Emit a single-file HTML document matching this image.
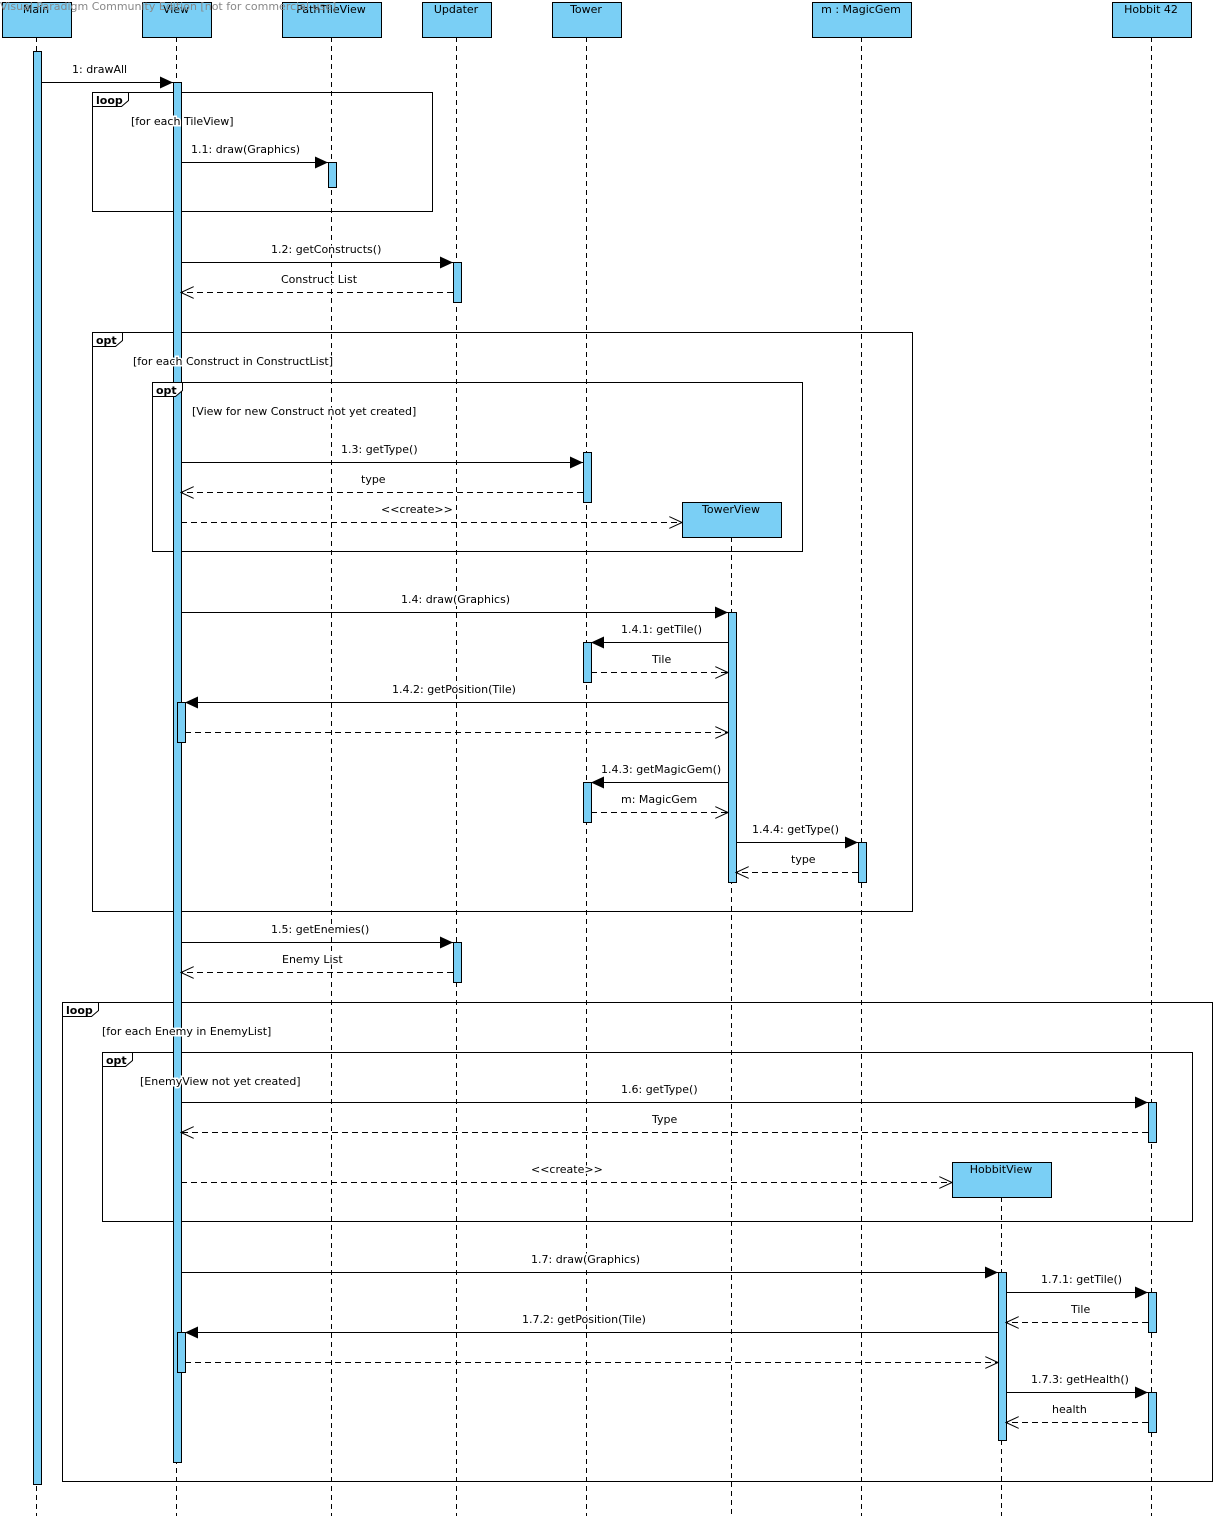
<!DOCTYPE html>
<html><head><meta charset="utf-8"><style>
html,body{margin:0;padding:0;background:#fff;}
svg text{font-family:"DejaVu Sans","Liberation Sans",sans-serif;font-size:11px;fill:#000;}
.lb{stroke:#fff;stroke-width:3px;paint-order:stroke;}
</style></head><body>
<svg width="1216" height="1516" viewBox="0 0 1216 1516" xmlns="http://www.w3.org/2000/svg">
<defs>
<marker id="f" markerWidth="14" markerHeight="12" refX="13" refY="6" orient="auto" markerUnits="userSpaceOnUse"><path d="M0,0 L13,6 L0,12 z" fill="#000"/></marker>
<marker id="o" markerWidth="14" markerHeight="12" refX="13" refY="6" orient="auto" markerUnits="userSpaceOnUse"><path d="M0,0 L13,6 L0,12" fill="none" stroke="#000"/></marker>
</defs>
<g stroke="#000" stroke-dasharray="5,4" fill="none">
<line x1="36.5" y1="37" x2="36.5" y2="1516"/><line x1="176.5" y1="37" x2="176.5" y2="1516"/>
<line x1="331.5" y1="37" x2="331.5" y2="1516"/><line x1="456.5" y1="37" x2="456.5" y2="1516"/>
<line x1="586.5" y1="37" x2="586.5" y2="1516"/><line x1="731.5" y1="537" x2="731.5" y2="1516"/>
<line x1="861.5" y1="37" x2="861.5" y2="1516"/><line x1="1001.5" y1="1197" x2="1001.5" y2="1516"/>
<line x1="1151.5" y1="37" x2="1151.5" y2="1516"/>
</g>
<g fill="none" stroke="#000">
<rect x="92.5" y="92.5" width="340" height="119"/>
<rect x="92.5" y="332.5" width="820" height="579"/>
<rect x="152.5" y="382.5" width="650" height="169"/>
<rect x="62.5" y="1002.5" width="1150" height="479"/>
<rect x="102.5" y="1052.5" width="1090" height="169"/>
</g>
<g fill="#7acff5" stroke="#000">
<rect x="2.5" y="2.5" width="69" height="35"/><rect x="142.5" y="2.5" width="69" height="35"/>
<rect x="282.5" y="2.5" width="99" height="35"/><rect x="422.5" y="2.5" width="69" height="35"/>
<rect x="552.5" y="2.5" width="69" height="35"/><rect x="682.5" y="502.5" width="99" height="35"/>
<rect x="812.5" y="2.5" width="99" height="35"/><rect x="952.5" y="1162.5" width="99" height="35"/>
<rect x="1112.5" y="2.5" width="79" height="35"/>
<rect x="33.5" y="51.5" width="8" height="1433"/>
<rect x="173.5" y="82.5" width="8" height="1380"/>
<rect x="328.5" y="162.5" width="8" height="25"/>
<rect x="453.5" y="262.5" width="8" height="40"/><rect x="453.5" y="942.5" width="8" height="40"/>
<rect x="583.5" y="452.5" width="8" height="50"/><rect x="583.5" y="642.5" width="8" height="40"/><rect x="583.5" y="782.5" width="8" height="40"/>
<rect x="177.5" y="702.5" width="8" height="40"/><rect x="177.5" y="1332.5" width="8" height="40"/>
<rect x="728.5" y="612.5" width="8" height="270"/>
<rect x="858.5" y="842.5" width="8" height="40"/>
<rect x="998.5" y="1272.5" width="8" height="168"/>
<rect x="1148.5" y="1102.5" width="8" height="40"/><rect x="1148.5" y="1292.5" width="8" height="40"/><rect x="1148.5" y="1392.5" width="8" height="40"/>
</g>
<g fill="#fff" stroke="#000">
<path d="M92.5,92.5 H128.5 V100.5 L121.5,106.5 H92.5z"/>
<path d="M92.5,332.5 H122.5 V340.5 L115.5,346.5 H92.5z"/>
<path d="M152.5,382.5 H182.5 V390.5 L175.5,396.5 H152.5z"/>
<path d="M62.5,1002.5 H98.5 V1010.5 L91.5,1016.5 H62.5z"/>
<path d="M102.5,1052.5 H132.5 V1060.5 L125.5,1066.5 H102.5z"/>
</g>
<g><text x="96" y="104" font-weight="bold">loop</text><text x="96" y="344" font-weight="bold">opt</text><text x="156" y="394" font-weight="bold">opt</text><text x="66" y="1014" font-weight="bold">loop</text><text x="106" y="1064" font-weight="bold">opt</text></g>
<g>
<text class="lb" x="131" y="125">[for each TileView]</text>
<text class="lb" x="133" y="365">[for each Construct in ConstructList]</text>
<text class="lb" x="192" y="415">[View for new Construct not yet created]</text>
<text class="lb" x="102" y="1035">[for each Enemy in EnemyList]</text>
<text class="lb" x="140" y="1085">[EnemyView not yet created]</text>
</g>
<g text-anchor="middle">
<text x="36" y="13">Main</text><text x="176" y="13">View</text><text x="331" y="13">PathTileView</text>
<text x="456" y="13">Updater</text><text x="586" y="13">Tower</text><text x="731" y="513">TowerView</text>
<text x="861" y="13">m : MagicGem</text><text x="1001" y="1173">HobbitView</text><text x="1151" y="13">Hobbit 42</text>
</g>
<text x="0" y="10" style="fill:#888">Visual Paradigm Community Edition [not for commercial use]</text>
<g stroke="#000" fill="none">
<line x1="41" y1="82.5" x2="173" y2="82.5" marker-end="url(#f)"/>
<line x1="181" y1="162.5" x2="328" y2="162.5" marker-end="url(#f)"/>
<line x1="181" y1="262.5" x2="453" y2="262.5" marker-end="url(#f)"/>
<line x1="453" y1="292.5" x2="181" y2="292.5" stroke-dasharray="6,4" marker-end="url(#o)"/>
<line x1="181" y1="462.5" x2="583" y2="462.5" marker-end="url(#f)"/>
<line x1="583" y1="492.5" x2="181" y2="492.5" stroke-dasharray="6,4" marker-end="url(#o)"/>
<line x1="181" y1="522.5" x2="682" y2="522.5" stroke-dasharray="6,4" marker-end="url(#o)"/>
<line x1="181" y1="612.5" x2="728" y2="612.5" marker-end="url(#f)"/>
<line x1="728" y1="642.5" x2="591" y2="642.5" marker-end="url(#f)"/>
<line x1="591" y1="672.5" x2="728" y2="672.5" stroke-dasharray="6,4" marker-end="url(#o)"/>
<line x1="728" y1="702.5" x2="185" y2="702.5" marker-end="url(#f)"/>
<line x1="185" y1="732.5" x2="728" y2="732.5" stroke-dasharray="6,4" marker-end="url(#o)"/>
<line x1="728" y1="782.5" x2="591" y2="782.5" marker-end="url(#f)"/>
<line x1="591" y1="812.5" x2="728" y2="812.5" stroke-dasharray="6,4" marker-end="url(#o)"/>
<line x1="736" y1="842.5" x2="858" y2="842.5" marker-end="url(#f)"/>
<line x1="858" y1="872.5" x2="736" y2="872.5" stroke-dasharray="6,4" marker-end="url(#o)"/>
<line x1="181" y1="942.5" x2="453" y2="942.5" marker-end="url(#f)"/>
<line x1="453" y1="972.5" x2="181" y2="972.5" stroke-dasharray="6,4" marker-end="url(#o)"/>
<line x1="181" y1="1102.5" x2="1148" y2="1102.5" marker-end="url(#f)"/>
<line x1="1148" y1="1132.5" x2="181" y2="1132.5" stroke-dasharray="6,4" marker-end="url(#o)"/>
<line x1="181" y1="1182.5" x2="952" y2="1182.5" stroke-dasharray="6,4" marker-end="url(#o)"/>
<line x1="181" y1="1272.5" x2="998" y2="1272.5" marker-end="url(#f)"/>
<line x1="1006" y1="1292.5" x2="1148" y2="1292.5" marker-end="url(#f)"/>
<line x1="1148" y1="1322.5" x2="1006" y2="1322.5" stroke-dasharray="6,4" marker-end="url(#o)"/>
<line x1="998" y1="1332.5" x2="185" y2="1332.5" marker-end="url(#f)"/>
<line x1="185" y1="1362.5" x2="998" y2="1362.5" stroke-dasharray="6,4" marker-end="url(#o)"/>
<line x1="1006" y1="1392.5" x2="1148" y2="1392.5" marker-end="url(#f)"/>
<line x1="1148" y1="1422.5" x2="1006" y2="1422.5" stroke-dasharray="6,4" marker-end="url(#o)"/>
</g>
<g>
<text class="lb" x="72" y="73">1: drawAll</text>
<text class="lb" x="191" y="153">1.1: draw(Graphics)</text>
<text class="lb" x="271" y="253">1.2: getConstructs()</text>
<text class="lb" x="281" y="283">Construct List</text>
<text class="lb" x="341" y="453">1.3: getType()</text>
<text class="lb" x="361" y="483">type</text>
<text class="lb" x="381" y="513">&lt;&lt;create&gt;&gt;</text>
<text class="lb" x="401" y="603">1.4: draw(Graphics)</text>
<text class="lb" x="621" y="633">1.4.1: getTile()</text>
<text class="lb" x="652" y="663">Tile</text>
<text class="lb" x="392" y="693">1.4.2: getPosition(Tile)</text>
<text class="lb" x="601" y="773">1.4.3: getMagicGem()</text>
<text class="lb" x="621" y="803">m: MagicGem</text>
<text class="lb" x="752" y="833">1.4.4: getType()</text>
<text class="lb" x="791" y="863">type</text>
<text class="lb" x="271" y="933">1.5: getEnemies()</text>
<text class="lb" x="282" y="963">Enemy List</text>
<text class="lb" x="621" y="1093">1.6: getType()</text>
<text class="lb" x="652" y="1123">Type</text>
<text class="lb" x="531" y="1173">&lt;&lt;create&gt;&gt;</text>
<text class="lb" x="531" y="1263">1.7: draw(Graphics)</text>
<text class="lb" x="1041" y="1283">1.7.1: getTile()</text>
<text class="lb" x="1071" y="1313">Tile</text>
<text class="lb" x="522" y="1323">1.7.2: getPosition(Tile)</text>
<text class="lb" x="1031" y="1383">1.7.3: getHealth()</text>
<text class="lb" x="1052" y="1413">health</text>
</g>
</svg>
</body></html>
